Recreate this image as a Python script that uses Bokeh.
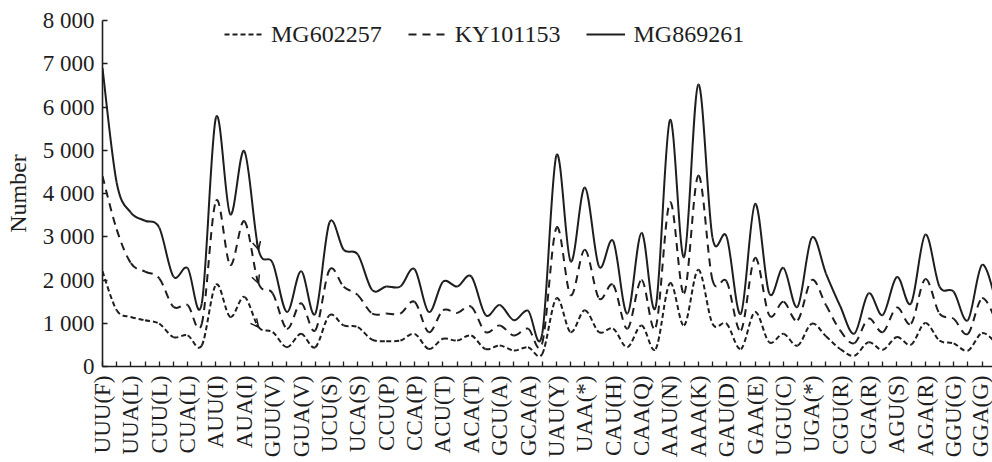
import math
from bokeh.plotting import figure
from bokeh.models import (Range1d, FixedTicker, Legend, LegendItem,
                          ColumnDataSource, Arrow, OpenHead)
from bokeh.embed import file_html
from bokeh.resources import INLINE

# ---------------- data ----------------
codons = ["UUU", "UUC", "UUA", "UUG", "CUU", "CUC", "CUA", "CUG",
          "AUU", "AUC", "AUA", "AUG", "GUU", "GUC", "GUA", "GUG",
          "UCU", "UCC", "UCA", "UCG", "CCU", "CCC", "CCA", "CCG",
          "ACU", "ACC", "ACA", "ACG", "GCU", "GCC", "GCA", "GCG",
          "UAU", "UAC", "UAA", "UAG", "CAU", "CAC", "CAA", "CAG",
          "AAU", "AAC", "AAA", "AAG", "GAU", "GAC", "GAA", "GAG",
          "UGU", "UGC", "UGA", "UGG", "CGU", "CGC", "CGA", "CGG",
          "AGU", "AGC", "AGA", "AGG", "GGU", "GGC", "GGA", "GGG"]
amino = ["F", "F", "L", "L", "L", "L", "L", "L",
         "I", "I", "I", "M", "V", "V", "V", "V",
         "S", "S", "S", "S", "P", "P", "P", "P",
         "T", "T", "T", "T", "A", "A", "A", "A",
         "Y", "Y", "*", "*", "H", "H", "Q", "Q",
         "N", "N", "K", "K", "D", "D", "E", "E",
         "C", "C", "*", "W", "R", "R", "R", "R",
         "S", "S", "R", "R", "G", "G", "G", "G"]

mg602257 = [2200, 1300, 1145, 1070, 990, 680, 720, 485,
            1890, 1145, 1610, 910, 795, 445, 755, 445,
            1185, 950, 910, 620, 585, 600, 755, 405,
            640, 600, 715, 405, 485, 370, 445, 290,
            1575, 795, 1300, 795, 875, 445, 950, 405,
            1925, 950, 2235, 990, 990, 405, 1260, 560,
            755, 485, 990, 700, 405, 250, 560, 385,
            680, 505, 1005, 600, 535, 365, 770, 540]
ky101153 = [4400, 3170, 2390, 2195, 2040, 1380, 1420, 990,
            3830, 2350, 3360, 1925, 1690, 875, 1460, 835,
            2235, 1845, 1650, 1225, 1225, 1225, 1495, 795,
            1300, 1240, 1380, 795, 950, 715, 875, 540,
            3210, 1650, 2700, 1575, 1885, 875, 2000, 910,
            3795, 1690, 4415, 2000, 1965, 835, 2510, 1185,
            1495, 1070, 2000, 1420, 835, 540, 1105, 795,
            1365, 990, 2020, 1225, 1105, 755, 1575, 1050]
mg869261 = [6900, 4250, 3560, 3370, 3210, 2080, 2275, 1460,
            5760, 3520, 4980, 2700, 2390, 1260, 2200, 1220,
            3330, 2700, 2590, 1770, 1850, 1850, 2250, 1260,
            1960, 1850, 2080, 1190, 1420, 1070, 1290, 760,
            4880, 2430, 4140, 2310, 2900, 1220, 3090, 1380,
            5700, 2530, 6520, 2980, 3000, 1220, 3760, 1690,
            2280, 1380, 2980, 2150, 1400, 760, 1690, 1190,
            2070, 1460, 3050, 1850, 1730, 1070, 2350, 1500]

series_names = ["MG602257", "KY101153", "MG869261"]
y_ticks = [0, 1000, 2000, 3000, 4000, 5000, 6000, 7000, 8000]
y_tick_labels = ["0", "1 000", "2 000", "3 000", "4 000",
                 "5 000", "6 000", "7 000", "8 000"]
arrow_index = 11  # small arrow marks drawn on each curve

# ---------------- helpers ----------------
x = list(range(len(codons)))


def smooth_source(vals):
    """Cubic Bezier segments (Catmull-Rom) through every data point."""
    n = len(vals)
    d = dict(x0=[], y0=[], x1=[], y1=[], cx0=[], cy0=[], cx1=[], cy1=[])
    for i in range(n - 1):
        ip = i - 1 if i > 0 else i
        iq = i + 2 if i + 2 < n else i + 1
        d["x0"].append(x[i]); d["y0"].append(vals[i])
        d["x1"].append(x[i + 1]); d["y1"].append(vals[i + 1])
        d["cx0"].append(x[i] + (x[i + 1] - x[ip]) / 6)
        d["cy0"].append(vals[i] + (vals[i + 1] - vals[ip]) / 6)
        d["cx1"].append(x[i + 1] - (x[iq] - x[i]) / 6)
        d["cy1"].append(vals[i + 1] - (vals[iq] - vals[i]) / 6)
    return ColumnDataSource(d)


FONT = "Liberation Serif"
INK = "#1e1e1e"
NAN = float("nan")

p = figure(width=992, height=462, output_backend="svg", toolbar_location=None,
           x_range=Range1d(0, 62.74), y_range=Range1d(0, 8000),
           min_border_left=102, min_border_right=0, min_border_top=20,
           min_border_bottom=96)
p.outline_line_color = None
p.xgrid.visible = False
p.ygrid.visible = False
p.background_fill_color = "white"
p.border_fill_color = "white"

styles = [dict(line_dash="5 3"), dict(line_dash="8 6"), dict(line_dash="solid")]
all_series = [mg602257, ky101153, mg869261]

items = []
for name, vals, st in zip(series_names, all_series, styles):
    src = smooth_source(vals)
    p.bezier(x0="x0", y0="y0", x1="x1", y1="y1", cx0="cx0", cy0="cy0",
             cx1="cx1", cy1="cy1", source=src, line_color=INK,
             line_width=2, **st)
    key = p.line(x=[NAN], y=[NAN], line_color=INK, line_width=2, **st)
    items.append(LegendItem(label=name, renderers=[key]))

    # small arrow mark on the curve
    i = arrow_index
    slope = (vals[i + 1] - vals[i - 1]) / 2.0
    p.add_layout(Arrow(end=OpenHead(size=8, line_width=1.5, line_color=INK),
                       x_start=x[i] - 0.15, y_start=vals[i] - 0.15 * slope,
                       x_end=x[i], y_end=vals[i],
                       line_width=1.5, line_color=INK))

legend = Legend(items=items, orientation="horizontal", location=(122, 318),
                glyph_width=39, glyph_height=28, label_height=28,
                label_standoff=8, spacing=26,
                padding=4, margin=0, border_line_color=None,
                background_fill_alpha=0,
                label_text_font=FONT, label_text_font_size="24px",
                label_text_color=INK)
p.add_layout(legend)

# x axis
p.xaxis.ticker = FixedTicker(ticks=[i for i in x if i % 2 == 0],
                             minor_ticks=[i for i in x if i % 2 == 1])
p.xaxis.major_label_overrides = {i: f"{codons[i]}({amino[i]})"
                                 for i in x if i % 2 == 0}
p.xaxis.major_label_orientation = math.pi / 2
p.xaxis.major_tick_in = 5
p.xaxis.major_tick_out = 0
p.xaxis.minor_tick_in = 5
p.xaxis.minor_tick_out = 0
p.xaxis.major_label_standoff = 9
p.xaxis.major_label_text_font = FONT
p.xaxis.major_label_text_font_size = "23px"
p.xaxis.major_label_text_color = INK

# y axis
p.yaxis.ticker = FixedTicker(ticks=y_ticks, minor_ticks=[])
p.yaxis.major_label_overrides = dict(zip(y_ticks, y_tick_labels))
p.yaxis.major_tick_in = 5
p.yaxis.major_tick_out = 0
p.yaxis.major_label_standoff = 8
p.yaxis.major_label_text_font = FONT
p.yaxis.major_label_text_font_size = "23px"
p.yaxis.major_label_text_color = INK
p.yaxis.axis_label = "Number"
p.yaxis.axis_label_text_font = FONT
p.yaxis.axis_label_text_font_size = "24px"
p.yaxis.axis_label_text_font_style = "normal"
p.yaxis.axis_label_text_color = INK
p.yaxis.axis_label_standoff = 9

for ax in (p.xaxis[0], p.yaxis[0]):
    ax.axis_line_width = 1.6
    ax.axis_line_color = INK
    ax.major_tick_line_color = INK
    ax.minor_tick_line_color = INK
    ax.major_tick_line_width = 1.3
    ax.minor_tick_line_width = 1.3

open("out.html", "w").write(file_html(p, INLINE))
